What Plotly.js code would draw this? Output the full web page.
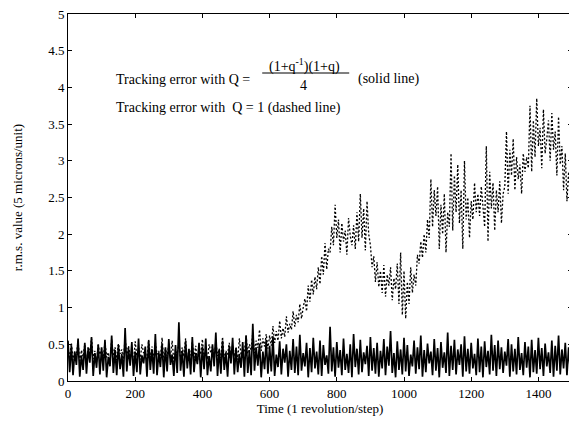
<!DOCTYPE html>
<html>
<head>
<meta charset="utf-8">
<script src="https://cdn.plot.ly/plotly-3.0.1.min.js"></script>
<style>
  html, body { margin: 0; padding: 0; overflow: hidden; background: #fff; }
  #chart { width: 580px; height: 432px; }
</style>
</head>
<body>
<div id="chart"></div>
<script>
// Sampling step of the stored records (revolutions per sample)
const stepSize = 5;

// r.m.s. tracking error with Q = (1+q^-1)(1+q)/4
const rmsFiltered = [
  0.55,0.12,0.48,0.08,0.40,0.22,0.58,0.06,0.35,0.15,0.52,0.10,0.44,0.25,0.60,0.07,0.38,0.18,0.50,0.09,
  0.46,0.14,0.56,0.05,0.33,0.20,0.62,0.11,0.42,0.08,0.49,0.16,0.37,0.06,0.72,0.13,0.45,0.21,0.53,0.07,
  0.40,0.12,0.58,0.09,0.35,0.24,0.47,0.06,0.55,0.15,0.43,0.10,0.64,0.08,0.39,0.19,0.51,0.05,0.46,0.13,
  0.57,0.22,0.36,0.07,0.49,0.11,0.80,0.14,0.41,0.06,0.54,0.17,0.44,0.09,0.60,0.12,0.38,0.23,0.52,0.05,
  0.47,0.16,0.58,0.08,0.34,0.13,0.50,0.20,0.66,0.07,0.43,0.10,0.55,0.15,0.39,0.06,0.48,0.24,0.59,0.09,
  0.45,0.12,0.37,0.18,0.53,0.06,0.62,0.11,0.42,0.08,0.78,0.14,0.46,0.21,0.51,0.05,0.40,0.16,0.56,0.10,
  0.48,0.13,0.61,0.07,0.36,0.19,0.54,0.09,0.44,0.25,0.50,0.06,0.41,0.15,0.57,0.11,0.47,0.08,0.63,0.14,
  0.38,0.20,0.52,0.05,0.45,0.12,0.59,0.17,0.40,0.09,0.55,0.07,0.49,0.22,0.35,0.10,0.74,0.13,0.46,0.06,
  0.53,0.18,0.42,0.08,0.58,0.15,0.37,0.11,0.50,0.05,0.64,0.19,0.44,0.09,0.56,0.12,0.39,0.23,0.48,0.07,
  0.60,0.14,0.45,0.10,0.52,0.06,0.41,0.17,0.57,0.08,0.47,0.21,0.68,0.11,0.38,0.05,0.54,0.15,0.43,0.09,
  0.59,0.13,0.49,0.07,0.36,0.20,0.55,0.10,0.46,0.16,0.62,0.06,0.42,0.12,0.51,0.24,0.40,0.08,0.57,0.14,
  0.45,0.05,0.53,0.18,0.39,0.11,0.66,0.07,0.48,0.15,0.56,0.09,0.43,0.22,0.50,0.06,0.61,0.13,0.44,0.10,
  0.52,0.17,0.37,0.08,0.58,0.12,0.47,0.05,0.54,0.19,0.41,0.09,0.63,0.14,0.49,0.07,0.55,0.16,0.46,0.11,
  0.40,0.21,0.57,0.06,0.50,0.13,0.44,0.09,0.60,0.15,0.38,0.08,0.53,0.18,0.47,0.05,0.56,0.12,0.42,0.10,
  0.59,0.16,0.45,0.07,0.51,0.20,0.39,0.11,0.55,0.06,0.48,0.14,0.62,0.09,0.43,0.17,0.52,0.08,0.46,0.13,
  0.50
];

// r.m.s. tracking error with Q = 1
const rmsUnity = [
  0.45,0.30,0.52,0.28,0.40,0.35,0.55,0.25,0.42,0.33,0.50,0.27,0.47,0.38,0.58,0.30,0.41,0.26,0.49,0.36,
  0.44,0.29,0.53,0.32,0.39,0.24,0.57,0.34,0.46,0.28,0.51,0.37,0.43,0.27,0.60,0.31,0.48,0.35,0.40,0.26,
  0.54,0.33,0.45,0.29,0.50,0.38,0.42,0.25,0.56,0.32,0.47,0.28,0.52,0.36,0.41,0.30,0.59,0.27,0.44,0.34,
  0.49,0.31,0.55,0.26,0.43,0.37,0.51,0.29,0.46,0.33,0.58,0.28,0.40,0.35,0.53,0.30,0.48,0.25,0.45,0.36,
  0.57,0.32,0.42,0.29,0.50,0.38,0.47,0.27,0.55,0.34,0.44,0.31,0.60,0.28,0.41,0.36,0.52,0.30,0.49,0.33,
  0.46,0.29,0.58,0.35,0.43,0.40,0.62,0.37,0.50,0.42,0.66,0.38,0.55,0.45,0.70,0.41,0.58,0.47,0.64,0.44,
  0.62,0.48,0.75,0.52,0.68,0.55,0.82,0.58,0.72,0.60,0.88,0.66,0.78,0.70,0.95,0.74,0.90,0.80,1.05,0.85,
  1.00,1.12,0.95,1.30,1.08,1.38,1.18,1.42,1.25,1.55,1.32,1.70,1.45,1.88,1.52,1.80,1.75,2.10,1.85,2.40,
  1.95,2.20,1.75,2.15,1.90,2.05,1.72,2.22,1.98,1.85,2.12,1.80,2.30,1.90,2.55,1.95,2.35,1.78,2.45,2.00,
  1.85,1.55,1.70,1.35,1.62,1.28,1.50,1.20,1.58,1.15,1.45,1.30,1.55,1.10,1.40,1.25,1.60,1.05,1.75,0.90,
  1.50,0.85,1.35,1.05,1.55,1.20,1.45,1.30,1.72,1.60,1.90,1.68,2.00,1.75,2.20,1.95,2.75,2.10,2.60,2.25,
  2.65,1.80,2.40,2.00,2.55,1.75,2.30,2.10,3.10,2.05,2.80,2.30,2.95,2.15,2.60,1.80,3.00,2.20,2.50,1.95,
  2.45,2.20,2.70,2.30,2.55,2.25,2.65,2.40,2.10,3.20,1.90,2.85,2.35,2.70,2.05,2.60,2.30,2.72,2.15,2.55,
  2.65,3.40,2.55,3.15,2.80,3.30,2.60,3.05,2.75,2.95,2.55,3.10,2.85,3.05,2.90,3.75,2.85,3.55,3.05,3.85,
  3.20,3.45,2.90,3.70,3.10,3.30,3.55,3.00,3.65,3.15,3.40,2.80,3.60,2.95,3.20,2.60,3.10,2.45,2.85,2.55,
  2.50
];

const timeSteps = rmsFiltered.map((_, i) => i * stepSize);

const serif = 'Liberation Serif, Times New Roman, serif';
const ink = '#000';

const traces = [
  {
    x: timeSteps, y: rmsFiltered, type: 'scatter', mode: 'lines',
    line: { color: ink, width: 1.7 }, hoverinfo: 'skip'
  },
  {
    x: timeSteps, y: rmsUnity, type: 'scatter', mode: 'lines',
    line: { color: ink, width: 1.3, dash: '2px,2px' }, hoverinfo: 'skip'
  }
];

const axisCommon = {
  showline: true, linecolor: ink, linewidth: 1, mirror: 'ticks',
  ticks: 'inside', ticklen: 4, tickcolor: ink, tickwidth: 1,
  showgrid: false, zeroline: false,
  tickfont: { family: serif, size: 13, color: ink }
};

const noteFont = { family: serif, size: 14, color: ink };

const layout = {
  width: 580, height: 432,
  margin: { l: 68, r: 8, t: 14, b: 51 },
  paper_bgcolor: '#fff', plot_bgcolor: '#fff',
  showlegend: false,
  xaxis: Object.assign({}, axisCommon, {
    range: [0, 1500], dtick: 200, tick0: 0,
    title: { text: 'Time (1 revolution/step)', font: { family: serif, size: 13, color: ink }, standoff: 4 }
  }),
  yaxis: Object.assign({}, axisCommon, {
    range: [0, 5], dtick: 0.5, tick0: 0,
    title: { text: 'r.m.s. value (5 microns/unit)', font: { family: serif, size: 13, color: ink }, standoff: 22 }
  }),
  annotations: [
    { xref: 'x', yref: 'y', x: 137, y: 4.114, xanchor: 'left', yanchor: 'middle',
      text: 'Tracking error with Q =', showarrow: false, font: noteFont },
    { xref: 'x', yref: 'y', x: 705, y: 4.30, xanchor: 'center', yanchor: 'middle',
      text: '(1+q<sup>-1</sup>)(1+q)', showarrow: false, font: noteFont },
    { xref: 'x', yref: 'y', x: 700, y: 4.02, xanchor: 'center', yanchor: 'middle',
      text: '4', showarrow: false, font: noteFont },
    { xref: 'x', yref: 'y', x: 857, y: 4.114, xanchor: 'left', yanchor: 'middle',
      text: '(solid line)', showarrow: false, font: noteFont },
    { xref: 'x', yref: 'y', x: 137, y: 3.72, xanchor: 'left', yanchor: 'middle',
      text: 'Tracking error with  Q = 1 (dashed line)', showarrow: false, font: noteFont }
  ],
  shapes: [
    // fraction bar of the Q expression
    { type: 'line', xref: 'x', yref: 'y', x0: 578, x1: 837, y0: 4.196, y1: 4.196,
      line: { color: ink, width: 1 } }
  ]
};

Plotly.newPlot('chart', traces, layout, { staticPlot: true, displayModeBar: false });
</script>
</body>
</html>
